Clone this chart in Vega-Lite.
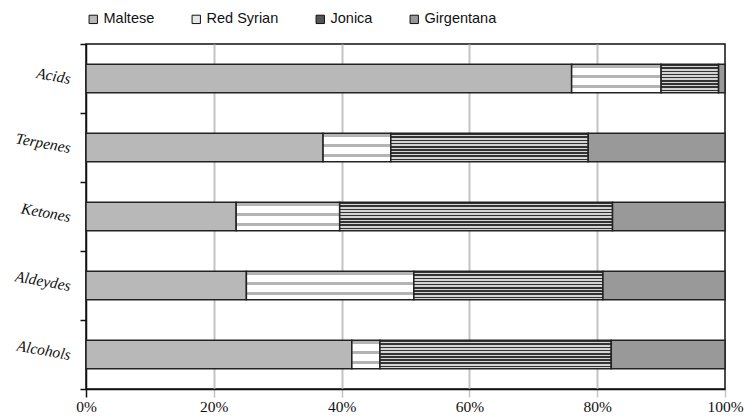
{
  "$schema": "https://vega.github.io/schema/vega-lite/v6.json",
  "autosize": "none",
  "padding": {"left": 86, "top": 44, "right": 19, "bottom": 28},
  "width": 639,
  "height": 345,
  "background": "white",
  "config": {"view": {"stroke": "#111", "strokeWidth": 1.5}},
  "data": {"values": [
    {"group": "Acids", "series": "Maltese", "k": 1, "value": 76.0},
    {"group": "Acids", "series": "Red Syrian", "k": 2, "value": 14.0},
    {"group": "Acids", "series": "Jonica", "k": 3, "value": 9.0},
    {"group": "Acids", "series": "Girgentana", "k": 4, "value": 1.0},
    {"group": "Terpenes", "series": "Maltese", "k": 1, "value": 37.1},
    {"group": "Terpenes", "series": "Red Syrian", "k": 2, "value": 10.6},
    {"group": "Terpenes", "series": "Jonica", "k": 3, "value": 30.9},
    {"group": "Terpenes", "series": "Girgentana", "k": 4, "value": 21.4},
    {"group": "Ketones", "series": "Maltese", "k": 1, "value": 23.5},
    {"group": "Ketones", "series": "Red Syrian", "k": 2, "value": 16.2},
    {"group": "Ketones", "series": "Jonica", "k": 3, "value": 42.7},
    {"group": "Ketones", "series": "Girgentana", "k": 4, "value": 17.6},
    {"group": "Aldeydes", "series": "Maltese", "k": 1, "value": 25.1},
    {"group": "Aldeydes", "series": "Red Syrian", "k": 2, "value": 26.2},
    {"group": "Aldeydes", "series": "Jonica", "k": 3, "value": 29.6},
    {"group": "Aldeydes", "series": "Girgentana", "k": 4, "value": 19.1},
    {"group": "Alcohols", "series": "Maltese", "k": 1, "value": 41.6},
    {"group": "Alcohols", "series": "Red Syrian", "k": 2, "value": 4.4},
    {"group": "Alcohols", "series": "Jonica", "k": 3, "value": 36.2},
    {"group": "Alcohols", "series": "Girgentana", "k": 4, "value": 17.8}
  ]},
  "mark": {"type": "bar", "stroke": "#222", "strokeWidth": 1.5, "height": {"band": 0.41}},
  "encoding": {
    "y": {
      "field": "group", "type": "nominal", "sort": null, "title": null,
      "scale": {"paddingInner": 0, "paddingOuter": 0},
      "axis": {
        "tickBand": "extent", "tickColor": "#111", "tickSize": 6, "tickWidth": 1.5,
        "domainColor": "#111", "domainWidth": 1.5,
        "labelFont": "Liberation Serif", "labelFontStyle": "italic", "labelFontSize": 15.5,
        "labelColor": "#111", "labelAngle": 10, "labelAlign": "right", "labelBaseline": "middle",
        "labelPadding": 10, "grid": false
      }
    },
    "x": {
      "field": "value", "type": "quantitative", "stack": "normalize", "title": null,
      "scale": {"domain": [0, 1], "nice": false},
      "axis": {
        "values": [0, 0.2, 0.4, 0.6, 0.8, 1], "format": ".0%", "labelFlush": false,
        "grid": true, "gridColor": "#c4c4c4", "gridWidth": 2,
        "gridOpacity": {"condition": {"test": "datum.value == 0 || datum.value == 1", "value": 0}, "value": 1},
        "tickColor": {"condition": {"test": "datum.value == 0", "value": "#111"}, "value": "#c4c4c4"},
        "tickSize": 8, "tickWidth": 1.5,
        "domainColor": "#111", "domainWidth": 1.5,
        "labelFont": "Liberation Serif", "labelFontSize": 15.5, "labelColor": "#111", "labelPadding": 2
      }
    },
    "order": {"field": "k", "type": "quantitative"},
    "fill": {
      "field": "series", "type": "nominal", "sort": ["Maltese", "Red Syrian", "Jonica", "Girgentana"],
      "scale": {"domain": ["Maltese", "Red Syrian", "Jonica", "Girgentana"], "range": ["#b8b8b8", "#e6e6e6", "#555555", "#999999"]},
      "condition": [
        {"test": "datum.series == 'Red Syrian'", "value": {"gradient": "linear", "x1": 0, "y1": 0, "x2": 0, "y2": 1, "stops": [
          {"offset": 0, "color": "#ffffff"}, {"offset": 0.03, "color": "#ffffff"},
          {"offset": 0.03, "color": "#b4b4b4"}, {"offset": 0.13, "color": "#b4b4b4"},
          {"offset": 0.13, "color": "#ffffff"}, {"offset": 0.38, "color": "#ffffff"},
          {"offset": 0.38, "color": "#b4b4b4"}, {"offset": 0.48, "color": "#b4b4b4"},
          {"offset": 0.48, "color": "#ffffff"}, {"offset": 0.73, "color": "#ffffff"},
          {"offset": 0.73, "color": "#b4b4b4"}, {"offset": 0.83, "color": "#b4b4b4"},
          {"offset": 0.83, "color": "#ffffff"}, {"offset": 1, "color": "#ffffff"}
        ]}},
        {"test": "datum.series == 'Jonica'", "value": {"gradient": "linear", "x1": 0, "y1": 0, "x2": 0, "y2": 1, "stops": [
          {"offset": 0, "color": "#333333"}, {"offset": 0.0556, "color": "#333333"},
          {"offset": 0.0556, "color": "#d4d4d4"}, {"offset": 0.1111, "color": "#d4d4d4"},
          {"offset": 0.1111, "color": "#333333"}, {"offset": 0.1667, "color": "#333333"},
          {"offset": 0.1667, "color": "#d4d4d4"}, {"offset": 0.2222, "color": "#d4d4d4"},
          {"offset": 0.2222, "color": "#333333"}, {"offset": 0.2778, "color": "#333333"},
          {"offset": 0.2778, "color": "#d4d4d4"}, {"offset": 0.3333, "color": "#d4d4d4"},
          {"offset": 0.3333, "color": "#333333"}, {"offset": 0.3889, "color": "#333333"},
          {"offset": 0.3889, "color": "#d4d4d4"}, {"offset": 0.4444, "color": "#d4d4d4"},
          {"offset": 0.4444, "color": "#333333"}, {"offset": 0.5, "color": "#333333"},
          {"offset": 0.5, "color": "#d4d4d4"}, {"offset": 0.5556, "color": "#d4d4d4"},
          {"offset": 0.5556, "color": "#333333"}, {"offset": 0.6111, "color": "#333333"},
          {"offset": 0.6111, "color": "#d4d4d4"}, {"offset": 0.6667, "color": "#d4d4d4"},
          {"offset": 0.6667, "color": "#333333"}, {"offset": 0.7222, "color": "#333333"},
          {"offset": 0.7222, "color": "#d4d4d4"}, {"offset": 0.7778, "color": "#d4d4d4"},
          {"offset": 0.7778, "color": "#333333"}, {"offset": 0.8333, "color": "#333333"},
          {"offset": 0.8333, "color": "#d4d4d4"}, {"offset": 0.8889, "color": "#d4d4d4"},
          {"offset": 0.8889, "color": "#333333"}, {"offset": 0.9444, "color": "#333333"},
          {"offset": 0.9444, "color": "#d4d4d4"}, {"offset": 1, "color": "#d4d4d4"}
        ]}}
      ],
      "legend": {
        "title": null, "orient": "none", "legendX": 0, "legendY": -32, "direction": "horizontal",
        "symbolType": "square", "symbolSize": 70, "symbolStrokeColor": "#111", "symbolStrokeWidth": 1,
        "labelFont": "Liberation Sans", "labelFontSize": 14.5, "labelColor": "#111",
        "labelOffset": 3, "columnPadding": 34
      }
    }
  }
}
